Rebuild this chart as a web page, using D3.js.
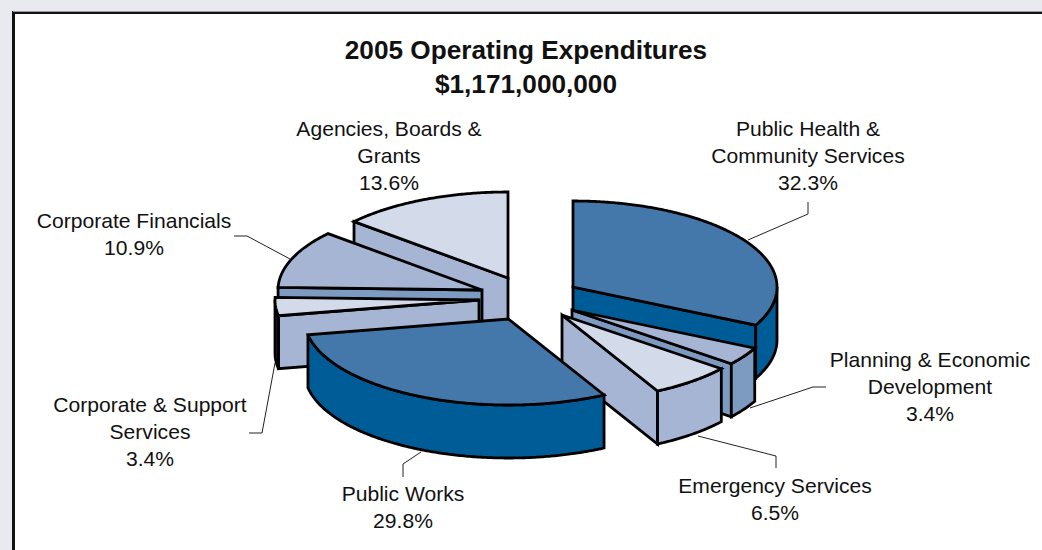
<!DOCTYPE html>
<html>
<head>
<meta charset="utf-8">
<script src="https://cdn.jsdelivr.net/npm/d3@7/dist/d3.min.js"></script>
<style>
html,body{margin:0;padding:0;background:#E9EAF0;overflow:hidden}
svg{display:block}
text{font-family:"Liberation Sans",Arial,sans-serif;fill:#111}
</style>
</head>
<body>
<svg id="c" width="1042" height="550"></svg>
<script>
// ---- data ----
const categories = ["Public Health & Community Services","Planning & Economic Development","Emergency Services","Public Works","Corporate & Support Services","Corporate Financials","Agencies, Boards & Grants"];
const shares = [32.3,3.4,6.5,29.8,3.4,10.9,13.6];
const titleLines = ["2005 Operating Expenditures","$1,171,000,000"];

// ---- layout ----
const W=1042,H=550, RX=204, RY=86, DEPTH=53;
const centre=[508.5,319];
const explode=[[64.5,-32],[63.5,-9],[53.5,-4],[0,0],[-29.5,-19],[-26.5,-29],[-0.5,-41]];
const topFill=["#4578AA","#A6B5D3","#D3DAEA","#4578AA","#D3DAEA","#A6B5D3","#D3DAEA"];
const wallFill=["#005C96","#7D9BC1","#A6B5D3","#005C96","#A6B5D3","#7D9BC1","#A6B5D3"];
const rimFill=["#005C96","#7D9BC1","#A6B5D3","#005C96","#4A1550","#7D9BC1","#A6B5D3"];
const paintOrder=[6,5,4,0,1,2,3];
const labelLines=[["Public Health &","Community Services"],["Planning & Economic","Development"],["Emergency Services"],["Public Works"],["Corporate & Support","Services"],["Corporate Financials"],["Agencies, Boards &","Grants"]];
const labelPos=[[808,136],[930,367],[775,493],[403,501],[150,412],[134,228],[389,136]];
const leaders=[[[748,240],[808,214],[808,202]],[[750,408],[813,387],[826,387]],[[698,436],[776,456],[776,468]],[[421,452],[403,464],[403,477]],[[275,363],[262,433],[249,433]],[[290,259],[247,236],[234,236]],null];

const svg=d3.select("#c");
svg.append("rect").attr("width",W).attr("height",H).attr("fill","#E9EAF0");
svg.append("rect").attr("x",13.5).attr("y",12.5).attr("width",W+20).attr("height",H+20)
  .attr("fill","#fff").attr("stroke","#111").attr("stroke-width",3);
svg.append("line").attr("x1",13).attr("x2",W).attr("y1",11.5).attr("y2",11.5).attr("stroke","#9a9aa0").attr("stroke-width",1);

const pie=d3.pie().sort(null).value(d=>d)(shares);
const sx=d3.scaleLinear().domain([-1,1]).range([-RX,RX]);
const sy=d3.scaleLinear().domain([-1,1]).range([-RY,RY]);
const line=d3.line();
const pt=(o,a,dz=0)=>[o[0]+sx(Math.sin(a)),o[1]+sy(-Math.cos(a))+dz];
const arcPts=(o,a0,a1,dz=0)=>{
  const n=Math.max(2,Math.ceil((a1-a0)/0.01));
  return d3.range(n+1).map(i=>pt(o,a0+(a1-a0)*i/n,dz));
};
const g=svg.append("g").attr("stroke","#000").attr("stroke-width",2.8).attr("stroke-linejoin","miter").attr("stroke-miterlimit",3);

paintOrder.forEach(i=>{
  const s=pie[i], a0=s.startAngle, a1=s.endAngle, am=(a0+a1)/2;
  const o=[centre[0]+explode[i][0],centre[1]+explode[i][1]];
  const m=[sx(Math.sin(am)),sy(-Math.cos(am))];
  [a0,a1].forEach(a=>{
    const d=[sx(Math.sin(a)),sy(-Math.cos(a))];
    if(Math.abs(d[0])<1) return;
    const cross=d[0]*m[1]-d[1]*m[0];
    const vis=d[0]>0?cross<0:cross>0;
    if(!vis) return;
    const p=pt(o,a);
    g.append("path").attr("fill",wallFill[i])
      .attr("d",line([o,p,[p[0],p[1]+DEPTH],[o[0],o[1]+DEPTH]])+"Z");
  });
  const v0=Math.max(a0,Math.PI/2), v1=Math.min(a1,Math.PI*1.5);
  if(v1>v0){
    const pts=arcPts(o,v0,v1).concat(arcPts(o,v0,v1,DEPTH).reverse());
    g.append("path").attr("fill",rimFill[i]).attr("d",line(pts)+"Z");
  }
  g.append("path").attr("fill",topFill[i])
    .attr("d",line([o].concat(arcPts(o,a0,a1)))+"Z");
});

// leader lines
leaders.forEach(l=>{
  if(!l) return;
  svg.append("path").attr("d",line(l)).attr("fill","none").attr("stroke","#222").attr("stroke-width",1);
});

// labels
categories.forEach((c,i)=>{
  const t=svg.append("text").attr("text-anchor","middle").attr("font-size",21.1);
  labelLines[i].concat([d3.format(".1f")(shares[i])+"%"]).forEach((ln,k)=>{
    t.append("tspan").attr("x",labelPos[i][0]).attr("y",labelPos[i][1]+k*27).text(ln);
  });
});
titleLines.forEach((ln,k)=>{
  svg.append("text").attr("x",526).attr("y",59+k*34).attr("text-anchor","middle")
    .attr("font-size",26.2).attr("font-weight","bold").text(ln);
});
</script>
</body>
</html>
